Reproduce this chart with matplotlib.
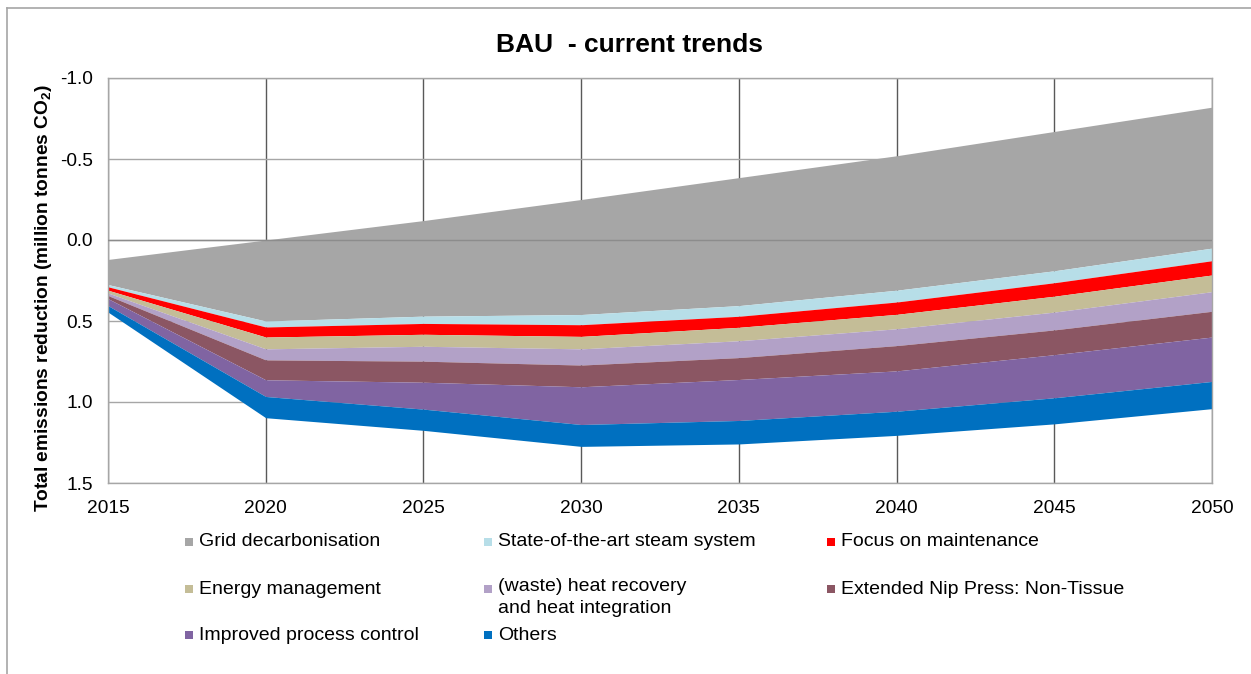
import numpy as np
import matplotlib.pyplot as plt
from matplotlib.patches import Rectangle
from matplotlib.lines import Line2D

plt.rcParams['font.family'] = ['Liberation Sans', 'DejaVu Sans']
plt.rcParams['mathtext.fontset'] = 'custom'
plt.rcParams['mathtext.rm'] = 'Liberation Sans'
plt.rcParams['mathtext.bf'] = 'Liberation Sans:bold'

# Data (million tonnes CO2, axis is reversed)
years = [2015, 2020, 2025, 2030, 2035, 2040, 2045, 2050]
stack_start = [0.12, 0.00, -0.12, -0.25, -0.385, -0.52, -0.67, -0.82]
grid_decarb = [0.155, 0.50, 0.59, 0.71, 0.79, 0.83, 0.86, 0.87]
steam_system = [0.014, 0.037, 0.045, 0.063, 0.066, 0.073, 0.074, 0.078]
maintenance = [0.021, 0.062, 0.067, 0.072, 0.068, 0.076, 0.083, 0.088]
energy_mgmt = [0.017, 0.073, 0.074, 0.077, 0.083, 0.089, 0.098, 0.103]
heat_recovery = [0.016, 0.068, 0.092, 0.100, 0.104, 0.104, 0.110, 0.121]
nip_press = [0.019, 0.123, 0.130, 0.134, 0.135, 0.156, 0.153, 0.159]
process_control = [0.043, 0.103, 0.166, 0.233, 0.253, 0.249, 0.266, 0.274]
others = [0.040, 0.131, 0.131, 0.135, 0.145, 0.149, 0.161, 0.168]

labels = ["Grid decarbonisation", "State-of-the-art steam system", "Focus on maintenance",
          "Energy management", "(waste) heat recovery\nand heat integration",
          "Extended Nip Press: Non-Tissue", "Improved process control", "Others"]
colors = ["#A6A6A6", "#B7DEE8", "#FF0000", "#C4BD97", "#B2A1C7",
          "#8B5663", "#8064A2", "#0070C0"]
series = [grid_decarb, steam_system, maintenance, energy_mgmt, heat_recovery,
          nip_press, process_control, others]

W, H = 1251, 674
fig = plt.figure(figsize=(W / 100, H / 100), dpi=100)
ax = fig.add_axes([108 / W, 1 - 483 / H, 1104 / W, 405 / H])

# stacked areas
lower = np.array(stack_start, dtype=float)
for vals, col in zip(series, colors):
    upper = lower + np.array(vals)
    ax.fill_between(years, lower, upper, color=col, lw=0, zorder=2)
    lower = upper

ax.set_xlim(2015, 2050)
ax.set_ylim(1.5, -1.0)
ax.set_xticks(years)
ax.set_yticks([-1.0, -0.5, 0.0, 0.5, 1.0, 1.5])
ax.set_yticklabels(["-1.0", "-0.5", "0.0", "0.5", "1.0", "1.5"])
ax.tick_params(axis='both', length=0, labelsize=13.8, colors='#000000')
ax.tick_params(axis='x', pad=12)
ax.tick_params(axis='y', pad=11)

ax.grid(axis='x', color='#595959', lw=1.0, zorder=1)
ax.grid(axis='y', color='#A6A6A6', lw=1.0, zorder=1)
ax.axhline(0, color='#8C8C8C', lw=1.0, zorder=3)
for s in ax.spines.values():
    s.set_color('#A6A6A6')
    s.set_linewidth(1.0)

fig.text(630 / W, 1 - 45 / H, "BAU  - current trends", ha='center', va='center',
         fontsize=19, fontweight='bold')
fig.text(44 / W, 1 - 298 / H,
         r"Total emissions reduction (million tonnes CO$_\mathbf{2}$)",
         rotation=90, ha='center', va='center', fontsize=13.8, fontweight='bold')

# legend, laid out as in the original (3 columns, fixed rows)
col_x = [185, 484, 827]
row_y = [542, 589, 635]
for i, (lab, col) in enumerate(zip(labels, colors)):
    cx = col_x[i % 3]
    ry = row_y[i // 3]
    fig.patches.append(Rectangle((cx / W, 1 - (ry + 4) / H), 8 / W, 8 / H,
                                 transform=fig.transFigure, color=col, lw=0))
    if '\n' in lab:
        fig.text((cx + 14) / W, 1 - (ry - 11) / H, lab, ha='left', va='top',
                 fontsize=14, linespacing=1.4)
    else:
        fig.text((cx + 14) / W, 1 - ry / H, lab, ha='left', va='center', fontsize=14)

# outer frame (top and left edges)
fig.add_artist(Line2D([7 / W, 1], [1 - 8 / H, 1 - 8 / H], color='#A6A6A6', lw=1.2))
fig.add_artist(Line2D([7 / W, 7 / W], [0, 1 - 8 / H], color='#A6A6A6', lw=1.2))

fig.savefig("out.png", dpi=100)
